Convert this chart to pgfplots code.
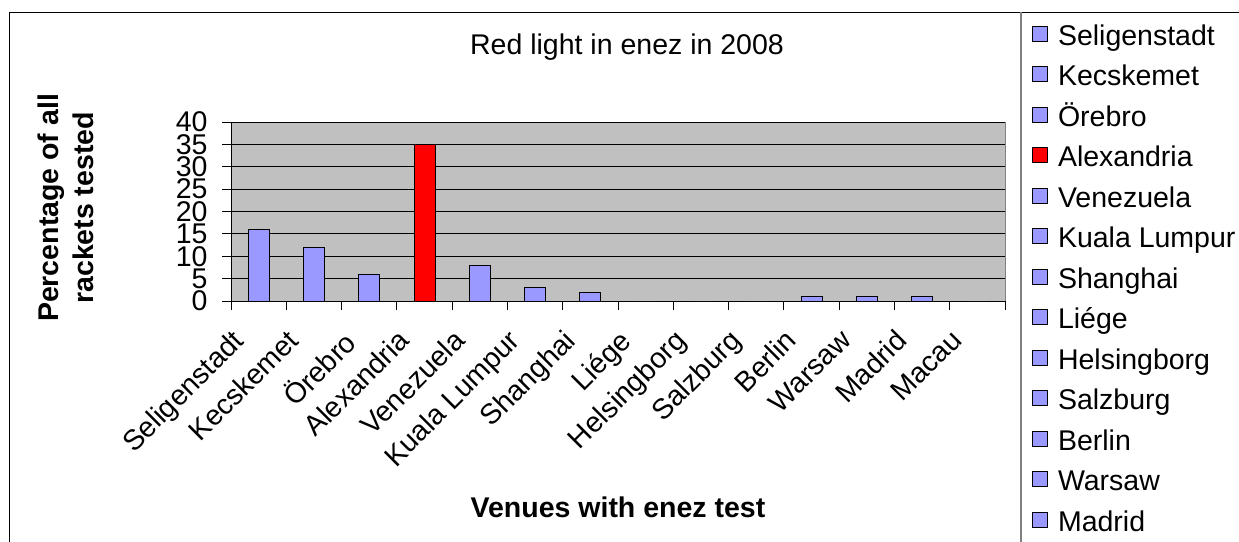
\documentclass[border=0pt]{standalone}
\usepackage{fontspec}
\setmainfont{Liberation Sans}
\usepackage{pgfplots}
\pgfplotsset{compat=1.18}
\definecolor{barblue}{HTML}{9999FF}
\definecolor{barred}{HTML}{FF0000}
\definecolor{plotgray}{HTML}{C0C0C0}
\newcommand{\cf}{\fontsize{28.5}{35}\selectfont}
\pgfplotsset{
  blueleg/.style={legend image code/.code={\draw[fill=barblue,draw=black,line width=0.8pt] (0pt,-3pt) rectangle (15pt,12pt);}},
  redleg/.style={legend image code/.code={\draw[fill=barred,draw=black,line width=0.8pt] (0pt,-3pt) rectangle (15pt,12pt);}},
}
\begin{document}
\begin{tikzpicture}[x=1pt,y=1pt]
\useasboundingbox (0,0) rectangle (1239,541);
\fill[white] (0,0) rectangle (1239,541);
\draw[black, line width=1.5pt] (9.5,-5) -- (9.5,528.5) -- (1245,528.5);
\draw[gray, line width=1.5pt] (1021,-5) -- (1021,528.5);
\begin{axis}[
  at={(231pt,240pt)}, anchor=south west, scale only axis,
  width=774pt, height=179pt,
  xmin=-0.5, xmax=13.5, ymin=0, ymax=40,
  axis x line*=bottom, axis y line*=left,
  axis line style={-, black, line width=1pt},
  axis background/.style={fill=plotgray, draw=gray, line width=1pt},
  ytick={0,5,...,40},
  yticklabel style={xshift=-11pt},
  xtick={-0.5,0.5,...,13.5}, xticklabels={},
  extra x ticks={0,1,...,13},
  extra x tick labels={Seligenstadt,Kecskemet,Örebro,Alexandria,Venezuela,Kuala Lumpur,Shanghai,Liége,Helsingborg,Salzburg,Berlin,Warsaw,Madrid,Macau},
  extra x tick style={major tick length=0pt, grid=none,
     xticklabel style={xshift=-28pt, yshift=-24pt, rotate=45, anchor=north east, font=\cf, inner sep=2pt}},
  tick align=outside,
  major tick length=9pt,
  tick style={black, line width=1pt},
  ymajorgrids=true,
  major grid style={black, line width=1pt},
  ticklabel style={font=\cf},
  /pgf/number format/assume math mode=true,
  title={Red light in enez in 2008},
  title style={at={(axis description cs:0.5116,1.346)}, anchor=base, font=\cf},
  xlabel={Venues with enez test},
  every axis x label/.style={at={(axis description cs:0.5,-1.2067)}, anchor=base, font=\cf\bfseries},
  ylabel={Percentage of all\\rackets tested},
  every axis y label/.style={at={(axis description cs:-0.2132,0.52)}, rotate=90, anchor=center, align=center, font=\cf\bfseries},
  legend style={at={(axis description cs:1.0349,1.5475)}, anchor=north west, draw=none, fill=none,
     inner sep=0pt, row sep=12.5pt, column sep=10pt, font=\cf,
     nodes={inner sep=0pt, text height=21pt, text depth=7pt}},
  legend cell align=left,
]
\addplot[ybar, bar width=21pt, bar shift=0pt, fill=barblue, draw=black, line width=1pt, forget plot]
  coordinates {(0,16) (1,12) (2,6) (4,8) (5,3) (6,2) (7,0) (8,0) (9,0) (10,1) (11,1) (12,1) (13,0)};
\addplot[ybar, bar width=21pt, bar shift=0pt, fill=barred, draw=black, line width=1pt, forget plot]
  coordinates {(3,35)};
\addlegendimage{blueleg}\addlegendentry{Seligenstadt}
\addlegendimage{blueleg}\addlegendentry{Kecskemet}
\addlegendimage{blueleg}\addlegendentry{Örebro}
\addlegendimage{redleg}\addlegendentry{Alexandria}
\addlegendimage{blueleg}\addlegendentry{Venezuela}
\addlegendimage{blueleg}\addlegendentry{Kuala Lumpur}
\addlegendimage{blueleg}\addlegendentry{Shanghai}
\addlegendimage{blueleg}\addlegendentry{Liége}
\addlegendimage{blueleg}\addlegendentry{Helsingborg}
\addlegendimage{blueleg}\addlegendentry{Salzburg}
\addlegendimage{blueleg}\addlegendentry{Berlin}
\addlegendimage{blueleg}\addlegendentry{Warsaw}
\addlegendimage{blueleg}\addlegendentry{Madrid}
\addlegendimage{blueleg}\addlegendentry{Macau}
\end{axis}
\end{tikzpicture}
\end{document}
